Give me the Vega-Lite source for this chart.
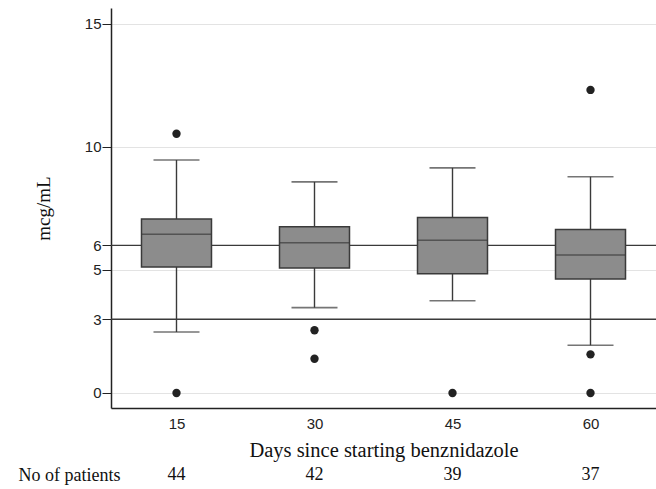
{
  "$schema": "https://vega.github.io/schema/vega-lite/v6.json",
  "padding": {"left": 18, "top": 8, "right": 0, "bottom": 0},
  "background": "white",
  "spacing": 4,
  "datasets": {
    "boxes": [
      {"day": 15, "lower": 2.48, "q1": 5.12, "median": 6.45, "q3": 7.07, "upper": 9.47, "n": 44, "row": "No of patients"},
      {"day": 30, "lower": 3.47, "q1": 5.08, "median": 6.11, "q3": 6.76, "upper": 8.58, "n": 42, "row": "No of patients"},
      {"day": 45, "lower": 3.75, "q1": 4.85, "median": 6.21, "q3": 7.13, "upper": 9.15, "n": 39, "row": "No of patients"},
      {"day": 60, "lower": 1.94, "q1": 4.63, "median": 5.61, "q3": 6.65, "upper": 8.79, "n": 37, "row": "No of patients"}
    ],
    "outliers": [
      {"day": 15, "value": 10.54},
      {"day": 15, "value": 0},
      {"day": 30, "value": 2.55},
      {"day": 30, "value": 1.39},
      {"day": 45, "value": 0},
      {"day": 60, "value": 12.32},
      {"day": 60, "value": 1.57},
      {"day": 60, "value": 0}
    ],
    "refs": [{"ref": 3}, {"ref": 6}]
  },
  "vconcat": [
    {
      "width": 545,
      "height": 400,
      "layer": [
        {
          "data": {"name": "refs"},
          "mark": {"type": "rule", "color": "#3a3a3a", "strokeWidth": 1.4},
          "encoding": {
            "y": {"field": "ref", "type": "quantitative", "title": "mcg/mL", "scale": {"domain": [-0.61, 15.65], "nice": false, "zero": false}, "axis": {"values": [0, 3, 5, 6, 10, 15], "title": "mcg/mL"}}
          }
        },
        {
          "data": {"name": "boxes"},
          "mark": {"type": "rule", "color": "#3a3a3a", "strokeWidth": 1.4},
          "encoding": {
            "x": {"field": "day", "type": "ordinal", "scale": {"type": "point", "padding": 0.4746}, "axis": {"title": "Days since starting benznidazole", "labelAngle": 0}},
            "y": {"field": "lower", "type": "quantitative", "title": "mcg/mL", "axis": {"values": [0, 3, 5, 6, 10, 15], "title": "mcg/mL"}},
            "y2": {"field": "upper"}
          }
        },
        {
          "data": {"name": "boxes"},
          "mark": {"type": "tick", "color": "#3a3a3a", "size": 46, "thickness": 1.6},
          "encoding": {
            "x": {"field": "day", "type": "ordinal", "scale": {"type": "point", "padding": 0.4746}, "axis": {"title": "Days since starting benznidazole", "labelAngle": 0}},
            "y": {"field": "lower", "type": "quantitative", "title": "mcg/mL", "axis": {"values": [0, 3, 5, 6, 10, 15], "title": "mcg/mL"}}
          }
        },
        {
          "data": {"name": "boxes"},
          "mark": {"type": "tick", "color": "#3a3a3a", "size": 46, "thickness": 1.6},
          "encoding": {
            "x": {"field": "day", "type": "ordinal", "scale": {"type": "point", "padding": 0.4746}, "axis": {"title": "Days since starting benznidazole", "labelAngle": 0}},
            "y": {"field": "upper", "type": "quantitative", "title": "mcg/mL", "axis": {"values": [0, 3, 5, 6, 10, 15], "title": "mcg/mL"}}
          }
        },
        {
          "data": {"name": "boxes"},
          "mark": {"type": "bar", "size": 70, "fill": "#8c8c8c", "stroke": "#3a3a3a", "strokeWidth": 1.5},
          "encoding": {
            "x": {"field": "day", "type": "ordinal", "scale": {"type": "point", "padding": 0.4746}, "axis": {"title": "Days since starting benznidazole", "labelAngle": 0}},
            "y": {"field": "q1", "type": "quantitative", "title": "mcg/mL", "axis": {"values": [0, 3, 5, 6, 10, 15], "title": "mcg/mL"}},
            "y2": {"field": "q3"}
          }
        },
        {
          "data": {"name": "boxes"},
          "mark": {"type": "tick", "color": "#3a3a3a", "size": 70, "thickness": 1.6},
          "encoding": {
            "x": {"field": "day", "type": "ordinal", "scale": {"type": "point", "padding": 0.4746}, "axis": {"title": "Days since starting benznidazole", "labelAngle": 0}},
            "y": {"field": "median", "type": "quantitative", "title": "mcg/mL", "axis": {"values": [0, 3, 5, 6, 10, 15], "title": "mcg/mL"}}
          }
        },
        {
          "data": {"name": "outliers"},
          "mark": {"type": "circle", "color": "#222222", "size": 70, "opacity": 1},
          "encoding": {
            "x": {"field": "day", "type": "ordinal", "scale": {"type": "point", "padding": 0.4746}, "axis": {"title": "Days since starting benznidazole", "labelAngle": 0}},
            "y": {"field": "value", "type": "quantitative", "title": "mcg/mL", "axis": {"values": [0, 3, 5, 6, 10, 15], "title": "mcg/mL"}}
          }
        }
      ]
    },
    {
      "width": 545,
      "height": 20,
      "data": {"name": "boxes"},
      "mark": {"type": "text", "font": "Liberation Serif", "fontSize": 18, "color": "#111111"},
      "encoding": {
        "x": {"field": "day", "type": "ordinal", "scale": {"type": "point", "padding": 0.4746}, "axis": null},
        "y": {"field": "row", "type": "nominal", "axis": {"title": null, "domain": false, "ticks": false, "tickSize": 0, "grid": false, "labelFont": "Liberation Serif", "labelFontSize": 18, "labelColor": "#111111", "labelPadding": -9}},
        "text": {"field": "n", "type": "quantitative"}
      }
    }
  ],
  "config": {
    "view": {"stroke": null},
    "axisY": {"domainColor": "#222222", "domainWidth": 1.5, "tickColor": "#222222", "tickSize": 9, "labelFont": "Liberation Sans", "labelFontSize": 15, "labelColor": "#222222", "labelPadding": 1, "grid": true, "gridColor": "#e3e3e3", "gridWidth": 1.2, "titleFont": "Liberation Serif", "titleFontSize": 19, "titleFontWeight": "normal", "titleColor": "#111111", "titlePadding": 31},
    "axisX": {"domainColor": "#222222", "domainWidth": 1.5, "ticks": false, "labelFont": "Liberation Sans", "labelFontSize": 15, "labelColor": "#222222", "labelPadding": 8, "grid": false, "titleFont": "Liberation Serif", "titleFontSize": 20.5, "titleFontWeight": "normal", "titleColor": "#111111", "titlePadding": 9}
  }
}
